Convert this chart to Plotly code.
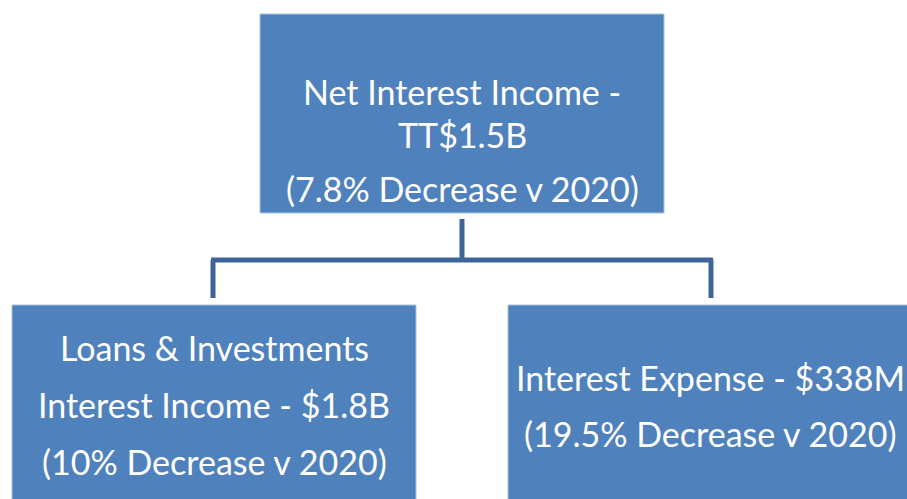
import plotly.graph_objects as go

# Node texts (one list of lines per box)
node_names = ["Net Interest Income", "Loans & Investments Interest Income", "Interest Expense"]
node_lines = [
    ["Net Interest Income -", "TT$1.5B", "(7.8% Decrease v 2020)"],
    ["Loans & Investments", "Interest Income - $1.8B", "(10% Decrease v 2020)"],
    ["Interest Expense - $338M", "(19.5% Decrease v 2020)"],
]
parent = [None, 0, 0]

# Layout geometry (pixels, y downward, page coordinates)
boxes = [(260, 14, 664, 213), (12, 305, 416, 530), (508, 305, 940, 530)]
line_y = [[91, 134, 188], [347, 404, 461], [377, 433]]
text_x = [462, 214, 710]
bus_y = 260
fill = "#4F81BD"
edge = "#A9C2E0"
conn = "#3D6597"
font_family = "Lato, 'Open Sans', sans-serif"
font_size = 34
W, H = 907, 499

fig = go.Figure()
fig.add_trace(go.Scatter(x=[0, W], y=[0, H], mode="markers",
                         marker=dict(opacity=0), hoverinfo="skip", showlegend=False))

shapes = []
for (x0, y0, x1, y1) in boxes:
    shapes.append(dict(type="rect", x0=x0, y0=y0, x1=x1, y1=y1, xref="x", yref="y",
                       fillcolor=fill, line=dict(color=edge, width=1), layer="below"))

# connectors
px = 462
shapes.append(dict(type="line", x0=px, y0=boxes[0][3] + 6, x1=px, y1=bus_y,
                   line=dict(color=conn, width=5)))
child_x = [213, 711]
shapes.append(dict(type="line", x0=child_x[0] - 2, y0=bus_y, x1=child_x[1] + 2, y1=bus_y,
                   line=dict(color=conn, width=5)))
for cx in child_x:
    shapes.append(dict(type="line", x0=cx, y0=bus_y, x1=cx, y1=298,
                       line=dict(color=conn, width=5)))

annotations = []
for i, lines in enumerate(node_lines):
    for j, t in enumerate(lines):
        annotations.append(dict(x=text_x[i], y=line_y[i][j], xref="x", yref="y", text=t,
                                showarrow=False, xanchor="center", yanchor="middle",
                                font=dict(family=font_family, size=font_size, color="white")))

fig.update_layout(
    width=W, height=H, margin=dict(l=0, r=0, t=0, b=0),
    paper_bgcolor="white", plot_bgcolor="white",
    xaxis=dict(range=[0, W], visible=False, fixedrange=True),
    yaxis=dict(range=[H, 0], visible=False, fixedrange=True),
    shapes=shapes, annotations=annotations, showlegend=False,
)
fig.write_html("out.html", config={"displayModeBar": False},
               post_script="document.body.style.margin='0';document.body.style.overflow='hidden';")
